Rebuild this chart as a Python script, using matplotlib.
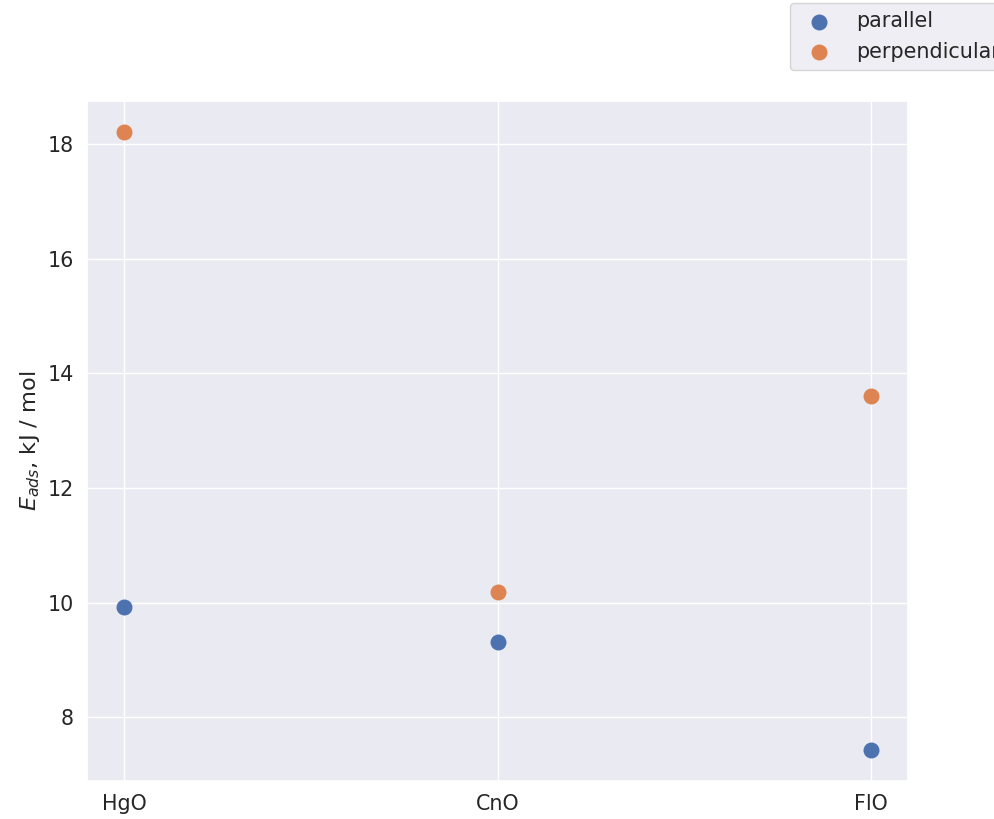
import matplotlib
matplotlib.use("Agg")
import matplotlib.pyplot as plt
import seaborn as sns

# Energías de adsorción por compuesto y orientación
compuestos = ["HgO", "CnO", "FlO"]
paralelo = [9.93, 9.32, 7.43]
perpendicular = [18.21, 10.19, 13.60]

sns.set_theme(style="darkgrid", font_scale=1.35)
colores = sns.color_palette("deep")

fig = plt.figure(figsize=(9.95, 8.19), dpi=100)
ax = fig.add_axes([0.0874, 0.0464, 0.8252, 0.8303])

x = range(len(compuestos))
ax.scatter(x, paralelo, s=110, color=colores[0], label="parallel", zorder=3)
ax.scatter(x, perpendicular, s=110, color=colores[1], label="perpendicular", zorder=3)

ax.set_xticks(list(x))
ax.set_xticklabels(compuestos)
ax.set_ylabel("$E_{ads}$, kJ / mol")

fig.legend(loc="upper left", bbox_to_anchor=(790 / 995, 1 - 3 / 819),
           bbox_transform=fig.transFigure, borderaxespad=0)

fig.savefig("out.png", dpi=100)
